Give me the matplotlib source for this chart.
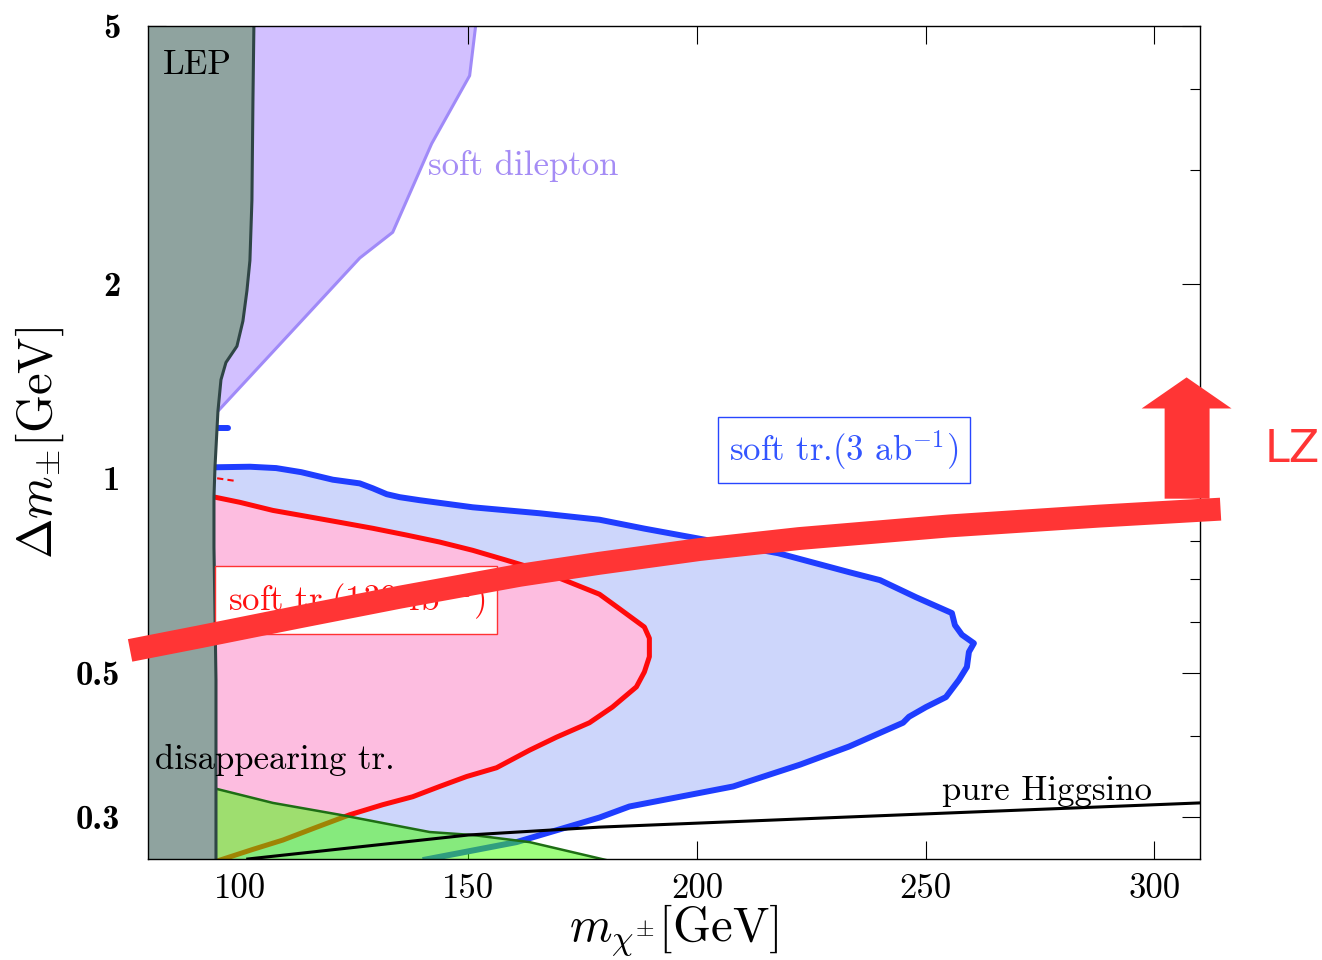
import matplotlib
matplotlib.use("Agg")
import matplotlib.pyplot as plt
from matplotlib.patches import Polygon
from matplotlib.ticker import NullFormatter, FixedLocator

plt.rcParams["font.family"] = ["cmr10", "DejaVu Serif"]
plt.rcParams["mathtext.fontset"] = "cm"
plt.rcParams["axes.unicode_minus"] = False
plt.rcParams["axes.formatter.use_mathtext"] = True

# ---- data -------------------------------------------------------------
# LEP exclusion boundary (chargino mass, mass splitting)
lep_m = [103.14, 102.93, 102.71, 102.27, 101.62, 100.74, 99.43, 97.03, 95.94,
         95.28, 94.63, 94.41, 94.41, 94.63, 94.85, 94.85]
lep_dm = [5.0, 3.83, 2.69, 2.17, 1.95, 1.75, 1.60, 1.51, 1.42,
          1.27, 1.04, 0.935, 0.782, 0.619, 0.488, 0.258]

# soft dilepton reach (right edge)
dilep_m = [151.62, 150.31, 142.01, 133.49, 126.29, 95.28]
dilep_dm = [5.0, 4.19, 3.29, 2.40, 2.19, 1.27]

# soft track reach, 3 ab^-1
trk3_m = [94.85, 102.27, 108.0, 113.5, 120.39, 126.29, 129.13, 132.18, 135.02,
          139.39, 150.96, 165.59, 178.69, 188.52, 201.18, 217.77, 233.28, 240.04,
          247.90, 255.76, 256.42, 257.95, 260.57, 259.48, 259.04, 257.29, 254.45,
          250.09, 246.38, 245.07, 233.28, 222.58, 207.95, 185.24, 178.69, 160.57,
          140.04]
trk3_dm = [1.040, 1.042, 1.037, 1.022, 0.995, 0.982, 0.965, 0.945, 0.935,
           0.925, 0.902, 0.883, 0.863, 0.836, 0.805, 0.766, 0.716, 0.696,
           0.655, 0.619, 0.593, 0.573, 0.556, 0.539, 0.511, 0.488, 0.459,
           0.443, 0.428, 0.419, 0.385, 0.361, 0.334, 0.311, 0.299, 0.274,
           0.257]

# soft track reach, 139 fb^-1
trk139_m = [94.63, 100.09, 107.29, 113.19, 121.92, 129.13, 136.55, 143.76, 150.96,
            158.38, 165.59, 172.14, 178.69, 182.62, 188.52, 189.61, 189.61, 188.52,
            186.77, 181.53, 176.51, 169.30, 163.41, 156.20, 149.65, 143.76, 137.86,
            131.31, 124.10, 116.90, 109.48, 102.93, 95.72]
trk139_dm = [0.935, 0.918, 0.892, 0.877, 0.855, 0.837, 0.817, 0.797, 0.774,
             0.747, 0.721, 0.691, 0.662, 0.632, 0.589, 0.566, 0.530, 0.502,
             0.476, 0.443, 0.419, 0.398, 0.380, 0.357, 0.346, 0.334, 0.322,
             0.313, 0.302, 0.289, 0.276, 0.267, 0.257]

# disappearing track reach (upper edge)
dis_m = [95.07, 107.29, 121.92, 141.57, 150.96, 163.41, 180.22]
dis_dm = [0.331, 0.315, 0.302, 0.284, 0.281, 0.274, 0.257]

# pure Higgsino mass splitting
higgs_m = [101.8, 150.0, 178.7, 230.0, 310.0]
higgs_dm = [0.258, 0.281, 0.289, 0.299, 0.315]

# LZ sensitivity curve
lz_m = [76.07, 91.35, 113.19, 135.02, 161.22, 178.69, 200.52, 222.36, 255.11,
        287.86, 314.50]
lz_dm = [0.542, 0.569, 0.611, 0.655, 0.708, 0.739, 0.776, 0.807, 0.844,
         0.874, 0.896]

# short fragments near the LEP edge
blue_frag_m, blue_frag_dm = [95.1, 97.5], [1.195, 1.195]
red_frag_m, red_frag_dm = [95.1, 99.4], [1.0, 0.99]

xlim = (80, 310)
ylim = (0.258, 5.0)
xticks = [100, 150, 200, 250, 300]
yticks = [0.3, 0.5, 1, 2, 5]
yticklabels = ["0.3", "0.5", "1", "2", "5"]
yminor = [0.4, 0.6, 0.7, 0.8, 0.9, 3, 4]

# ---- colours ---------------------------------------------------------
c_lep, c_lep_edge = "#8fa39f", "#2f4545"
c_dil, c_dil_edge = "#d2c0ff", "#a08af8"
c_blue_fill, c_blue = "#cdd6fb", "#1f3dff"
c_pink, c_red = "#fdbde0", "#ff0a0a"
c_green, c_green_edge = "#41ff00", "#1e6e14"
c_lz = "#ff3535"

fig = plt.figure(figsize=(13.22, 9.6), dpi=100)
ax = fig.add_axes([0.1120, 0.1052, 0.7957, 0.8677])
ax.set_yscale("log")
ax.set_xlim(*xlim)
ax.set_ylim(*ylim)

xl, yb = xlim[0], ylim[0]

# soft dilepton
poly = list(zip(dilep_m, dilep_dm)) + [(xl, dilep_dm[-1]), (xl, dilep_dm[0])]
ax.add_patch(Polygon(poly, closed=True, fc=c_dil, ec="none", zorder=1))
ax.plot(dilep_m, dilep_dm, color=c_dil_edge, lw=2.2, zorder=1.5)

# soft track 3 ab^-1
poly = [(xl, trk3_dm[0])] + list(zip(trk3_m, trk3_dm)) + [(trk3_m[-1], 0.2), (xl, 0.2)]
ax.add_patch(Polygon(poly, closed=True, fc=c_blue_fill, ec="none", zorder=2))
ax.plot(trk3_m, trk3_dm, color=c_blue, lw=4.3, zorder=2.5,
        solid_capstyle="butt", solid_joinstyle="round")
ax.plot(blue_frag_m, blue_frag_dm, color=c_blue, lw=4.3, zorder=2.5,
        solid_capstyle="round")

# soft track 139 fb^-1
poly = [(xl, trk139_dm[0])] + list(zip(trk139_m, trk139_dm)) + [(trk139_m[-1], 0.2), (xl, 0.2)]
ax.add_patch(Polygon(poly, closed=True, fc=c_pink, ec="none", zorder=3))
ax.plot(trk139_m, trk139_dm, color=c_red, lw=3.6, zorder=3.5,
        solid_joinstyle="round")
ax.plot(red_frag_m, red_frag_dm, color=c_red, lw=1.5, ls=(0, (3, 2)), zorder=3.5)

# disappearing track
poly = list(zip(dis_m, dis_dm)) + [(dis_m[-1], 0.2), (xl, 0.2), (xl, dis_dm[0])]
ax.add_patch(Polygon(poly, closed=True, fc=c_green, ec="none", alpha=0.5, zorder=4))
ax.plot(dis_m, dis_dm, color=c_green_edge, lw=1.8, zorder=4.5)

# pure Higgsino line
ax.plot(higgs_m, higgs_dm, color="black", lw=2.2, zorder=5)

# LEP
poly = list(zip(lep_m, lep_dm)) + [(xl, yb * 0.9), (xl, 6.0)]
ax.add_patch(Polygon(poly, closed=True, fc=c_lep, ec="none", zorder=6))
ax.plot(lep_m, lep_dm, color=c_lep_edge, lw=2.2, zorder=6.5)

# labels inside the plot
fs = 25
ax.text(90.7, 4.35, "LEP", fontsize=fs, ha="center", va="center", zorder=7)
ax.text(141.1, 3.04, "soft dilepton", fontsize=fs, color="#a58cf5",
        ha="left", va="center", zorder=7)
ax.text(81.5, 0.367, "disappearing tr.", fontsize=fs, color="black",
        ha="left", va="center", zorder=7)
ax.text(253.6, 0.329, "pure Higgsino", fontsize=fs, color="black",
        ha="left", va="center", zorder=7)
ax.text(232.2, 1.106, r"soft tr.(3 ab$^{-1}$)", fontsize=fs, color="#3355ff",
        ha="center", va="center", zorder=7,
        bbox=dict(boxstyle="square,pad=0.33", fc="white", ec="#2846ff", lw=1.0))
ax.text(125.5, 0.648, r"soft tr.(139 fb$^{-1}$)", fontsize=fs, color="#ff1111",
        ha="center", va="center", zorder=7,
        bbox=dict(boxstyle="square,pad=0.35", fc="white", ec="#ff3333", lw=1.0))

# LZ band and arrow
ax.plot(lz_m, lz_dm, color=c_lz, lw=16.5, solid_capstyle="butt",
        solid_joinstyle="round", clip_on=False, zorder=9)
arrow_m = [302.27, 302.27, 297.25, 307.07, 316.90, 312.10, 312.10]
arrow_dm = [0.93, 1.282, 1.282, 1.432, 1.282, 1.282, 0.93]
ax.add_patch(Polygon(list(zip(arrow_m, arrow_dm)), closed=True, fc=c_lz, ec="none",
                     clip_on=False, zorder=9))
fig.text(1292 / 1322, 1 - 450 / 960, "LZ", fontsize=32, color=c_lz,
         family="DejaVu Sans", ha="center", va="center")

# axes styling
ax.set_xticks(xticks)
ax.set_xticklabels([str(v) for v in xticks], fontsize=25)
ax.yaxis.set_major_locator(FixedLocator(yticks))
ax.yaxis.set_minor_locator(FixedLocator(yminor))
ax.set_yticklabels(yticklabels, family="cmb10", fontsize=25)
ax.yaxis.set_minor_formatter(NullFormatter())
ax.xaxis.set_minor_locator(FixedLocator([]))
ax.tick_params(which="both", direction="in", top=True, right=True, width=0.8,
               color="black")
ax.tick_params(which="major", length=13)
ax.tick_params(which="minor", length=7)
ax.tick_params(axis="x", pad=10)
ax.tick_params(axis="y", pad=20)
for sp in ax.spines.values():
    sp.set_linewidth(1.0)
    sp.set_zorder(8)

ax.set_xlabel(r"$m_{\chi^{\pm}}[\mathrm{GeV}]$", fontsize=35, va="top")
ax.xaxis.set_label_coords(0.5, -0.052)
ax.set_ylabel(r"$\Delta m_{\pm}[\mathrm{GeV}]$", fontsize=35, va="center", ha="center")
ax.yaxis.set_label_coords(-0.103, 0.5)

fig.savefig("out.png", dpi=100)
